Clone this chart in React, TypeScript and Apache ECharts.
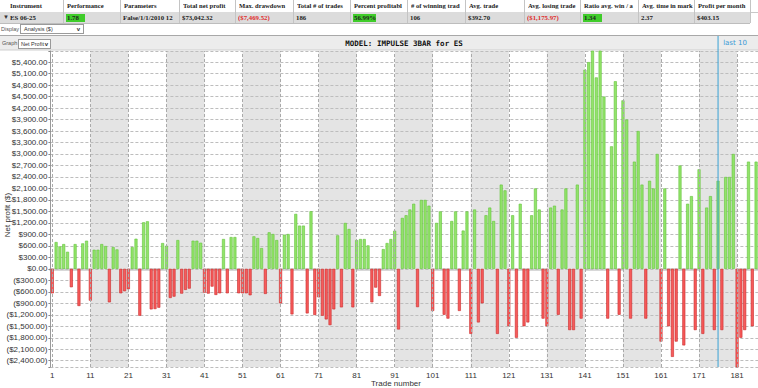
import React, { useEffect, useRef } from "react";
import * as echarts from "echarts";

const tradeNumbers: string[] = Array.from({ length: 186 }, (_, i) => String(i + 1));

const netProfit: number[] = [
  -640, 700, 586, 647, 446, -481, 647, -971, 665, 735,
  -831, 499, 499, 647, 595, -875, 569, 507, -639, -586,
  -534, 569, 787, -1225, 1216, 1242, -1059, -1050, -1015, 674,
  604, -761, -726, 752, -647, -551, -516, 735, 735, 682,
  -621, -647, -464, -682, -639, 779, -639, 831, 831, -639,
  -639, -639, -691, 849, 805, 543, -656, 954, 910, 752,
  -901, 893, 910, -1190, 1435, 1129, 1129, -1164, 1505, -1207,
  -744, -1225, -1321, -1470, -1059, 875, -1006, 1199, 1041, -1006,
  752, 779, 779, 612, -875, -490, -709, 516, 674, 779,
  997, -1584, 1330, 1400, 1550, 1700, -1000, 1800, 1800, 1650,
  -1100, 1200, 1500, -1200, -1300, 1250, 1500, -1100, 1000, 1500,
  -1700, 1550, -1400, -900, 1400, 1600, 1250, -1700, 2200, 2050,
  -1500, 1400, -1800, 1700, -1500, -1400, 1400, 2100, 1550, -1300,
  -1500, 1600, 1650, -1200, 1550, 2100, -1600, -1600, 2200, -1300,
  5200, 5400, 5900, 5000, 5900, 4500, -1300, 3200, 4900, -1200,
  4400, 3900, -1300, 2800, 3600, 2200, -1300, 2300, 2100, 3000,
  -1900, 2100, -1500, -2300, -1900, 2700, -2000, 1700, 1900, -1600,
  2600, -1700, 1600, 1900, -1600, 2300, -1600, 2400, 2400, 3000,
  -2600, -1800, -1600, 2800, -1500, 2800,
];

const shadedBandStarts: string[] = ["11", "31", "51", "71", "91", "111", "131", "151", "171"];
const dividerTrades: string[] = ["1", "11", "21", "31", "41", "51", "61", "71", "81", "91", "101", "111", "121", "131", "141", "151", "161", "171", "181"];
const last10Trade = "176";

const headerLabels: string[] = [
  "Instrument", "Performance", "Parameters", "Total net profit", "Max. drawdown",
  "Total # of trades", "Percent profitabl", "# of winning trad", "Avg. trade",
  "Avg. losing trade", "Ratio avg. win / a", "Avg. time in mark", "Profit per month",
];
const summaryValues: string[] = [
  "ES 06-25", "1.78", "False/1/1/2010 12", "$73,042.32", "($7,469.52)", "186",
  "56.99%", "106", "$392.70", "($1,175.97)", "1.34", "2.37", "$403.15",
];
const greenCells = [1, 6, 10];
const redCells = [4, 9];
const colEdges = [0, 63, 120, 179, 235, 293, 350, 407, 465, 524, 580, 638, 694, 750];

const fmtMoney = (v: number) => {
  const s = "$" + Math.abs(v).toLocaleString("en-US", { minimumFractionDigits: 2, maximumFractionDigits: 2 });
  return v < 0 ? "(" + s + ")" : s;
};

const serif = "'Liberation Serif', 'Times New Roman', serif";
const sans = "'Liberation Sans', Arial, sans-serif";

export default function App() {
  const ref = useRef<HTMLDivElement>(null);

  useEffect(() => {
    if (!ref.current) return;
    const chart = echarts.init(ref.current, null, { renderer: "svg" });
    const wins = netProfit.map((v) => (v > 0 ? v : "-"));
    const losses = netProfit.map((v) => (v < 0 ? v : "-"));
    const option: any = {
      animation: false,
      grid: { left: 50.4, top: 51, width: 708.7, height: 316, containLabel: false },
      xAxis: {
        type: "category",
        data: tradeNumbers,
        boundaryGap: true,
        axisLine: { show: true, lineStyle: { color: "#d8d8d8", width: 3 } },
        axisTick: { show: false },
        splitLine: { show: false },
        axisLabel: {
          interval: (i: number) => i % 10 === 0,
          fontSize: 8,
          color: "#333",
          fontFamily: sans,
          margin: 4,
        },
      },
      yAxis: {
        type: "value",
        min: -2564,
        max: 5690,
        splitNumber: 28,
        z: 2,
        axisLine: { show: true, lineStyle: { color: "#999", width: 1 } },
        axisTick: { show: true, length: 2, lineStyle: { color: "#888" } },
        splitLine: { show: true, lineStyle: { color: "#bdbdbd", type: [3, 2], width: 1 } },
        axisLabel: {
          fontSize: 8,
          color: "#333",
          fontFamily: sans,
          margin: 3,
          formatter: (v: number) => (Math.abs(v % 300) < 1e-6 && v <= 5400 ? fmtMoney(v) : ""),
        },
      },
      series: [
        {
          type: "line",
          data: [],
          z: 1,
          silent: true,
          markArea: {
            silent: true,
            itemStyle: { color: "#e4e4e4" },
            data: shadedBandStarts.map((s) => [{ xAxis: s }, { xAxis: String(Number(s) + 10) }]),
          },
        },
        {
          type: "line",
          data: [],
          z: 2,
          silent: true,
          markLine: {
            silent: true,
            symbol: "none",
            label: { show: false },
            lineStyle: { color: "#aaa", type: [3, 2], width: 1 },
            data: dividerTrades.map((t) => ({ xAxis: t })),
          },
        },
        {
          name: "win",
          type: "bar",
          data: wins,
          z: 3,
          barWidth: 3,
          barGap: "-100%",
          clip: true,
          itemStyle: { color: "#92e46a", borderColor: "#63c23b", borderWidth: 0.6 },
        },
        {
          name: "loss",
          type: "bar",
          data: losses,
          z: 3,
          barWidth: 3,
          barGap: "-100%",
          clip: true,
          itemStyle: { color: "#f75b5b", borderColor: "#c92a2a", borderWidth: 0.6 },
        },
      ],
      graphic: [
        { type: "rect", z: 0, shape: { x: 0, y: 35, width: 758, height: 15 }, style: { fill: "#ececec", stroke: "none" } },
        { type: "line", z: 1, shape: { x1: 0, y1: 35.5, x2: 758, y2: 35.5 }, style: { stroke: "#a8a8a8", lineWidth: 1 } },
        { type: "line", z: 1, shape: { x1: 0, y1: 50, x2: 758, y2: 50 }, style: { stroke: "#cfcfcf", lineWidth: 1 } },
        {
          type: "text", z: 2, x: 404, y: 43,
          style: { text: "MODEL: IMPULSE 3BAR for ES", font: "bold 7.5px 'DejaVu Sans Mono', monospace", fill: "#111", align: "center", verticalAlign: "middle" },
        },
        {
          type: "text", z: 2, x: 735, y: 43,
          style: { text: "last 10", font: "7px 'DejaVu Sans', sans-serif", fill: "#3a9ad6", align: "center", verticalAlign: "middle" },
        },
        {
          type: "text", z: 2, x: 7, y: 215, rotation: Math.PI / 2,
          style: { text: "Net profit ($)", font: "8px 'Liberation Sans', Arial, sans-serif", fill: "#333", align: "center", verticalAlign: "middle" },
        },
        {
          type: "text", z: 2, x: 396, y: 383,
          style: { text: "Trade number", font: "8px 'Liberation Sans', Arial, sans-serif", fill: "#333", align: "center", verticalAlign: "middle" },
        },
      ],
    };
    chart.setOption(option);
    const px = chart.convertToPixel({ xAxisIndex: 0 }, last10Trade) as number;
    chart.setOption({
      graphic: [
        ...option.graphic,
        { type: "line", z: 100, shape: { x1: px, y1: 36, x2: px, y2: 367 }, style: { stroke: "#3aa3d6", lineWidth: 1 } },
      ],
    });
    return () => chart.dispose();
  }, []);

  return (
    <div style={{ position: "fixed", left: 0, top: 0, width: 758, height: 388, background: "#fff", overflow: "hidden" }}>
      <div ref={ref} style={{ position: "absolute", left: 0, top: 0, width: 758, height: 388 }} />
      <div style={{ position: "absolute", left: 0, top: 0, width: 758, height: 12, background: "#fff", borderBottom: "1px solid #c8c8c8" }} />
      <div style={{ position: "absolute", left: 0, top: 12, width: 750, height: 11, background: "#dcdcdc", borderBottom: "1px solid #bdbdbd" }} />
      {headerLabels.map((h, i) => (
        <div key={"h" + i} style={{
          position: "absolute", left: colEdges[i] + (i === 0 ? 10 : 4), top: 1, width: colEdges[i + 1] - colEdges[i] - (i === 0 ? 10 : 4),
          height: 10, overflow: "hidden", whiteSpace: "nowrap", font: "bold 6.6px " + serif, lineHeight: "10px", color: "#222",
        }}>{h}</div>
      ))}
      {colEdges.slice(1).map((x, i) => (
        <div key={"d" + i} style={{ position: "absolute", left: x, top: 0, width: 1, height: 23, background: "#c4c4c4" }} />
      ))}
      <div style={{ position: "absolute", left: 3, top: 13, font: "6px " + sans, lineHeight: "9px", color: "#333" }}>▼</div>
      {summaryValues.map((v, i) => {
        const green = greenCells.includes(i);
        const red = redCells.includes(i);
        return (
          <div key={"s" + i} style={{
            position: "absolute", left: colEdges[i] + (i === 0 ? 10 : 3), top: 13, width: colEdges[i + 1] - colEdges[i] - (i === 0 ? 10 : 3),
            height: 9, overflow: "hidden", whiteSpace: "nowrap", font: "bold 6.8px " + serif, lineHeight: "9px",
            color: red ? "#e02a2a" : "#222",
          }}>
            {green ? (
              <span style={{ display: "inline-block", background: "#3fcc2a", minWidth: 18, paddingLeft: 1, lineHeight: "8px" }}>{v}</span>
            ) : v}
          </div>
        );
      })}
      <div style={{ position: "absolute", left: 1, top: 25, font: "5.5px " + sans, color: "#555", lineHeight: "8px" }}>Display</div>
      <div style={{ position: "absolute", left: 20, top: 24, width: 59, height: 8, border: "1px solid #9a9a9a", background: "#fff", font: "5.5px " + sans, lineHeight: "8px", color: "#333", paddingLeft: 3, boxSizing: "content-box" }}>
        Analysis ($)
        <span style={{ position: "absolute", right: 3, top: 0, fontSize: 6, fontWeight: "bold" }}>v</span>
      </div>
      <div style={{ position: "absolute", left: 2, top: 39, font: "5.5px " + sans, color: "#555", lineHeight: "8px" }}>Graph</div>
      <div style={{ position: "absolute", left: 18, top: 38.5, width: 29, height: 8, border: "1px solid #9a9a9a", background: "#fff", font: "5.5px " + sans, lineHeight: "8px", color: "#333", paddingLeft: 2, boxSizing: "content-box" }}>
        Net Profit
        <span style={{ position: "absolute", right: 2, top: 0, fontSize: 6, fontWeight: "bold" }}>v</span>
      </div>
    </div>
  );
}
